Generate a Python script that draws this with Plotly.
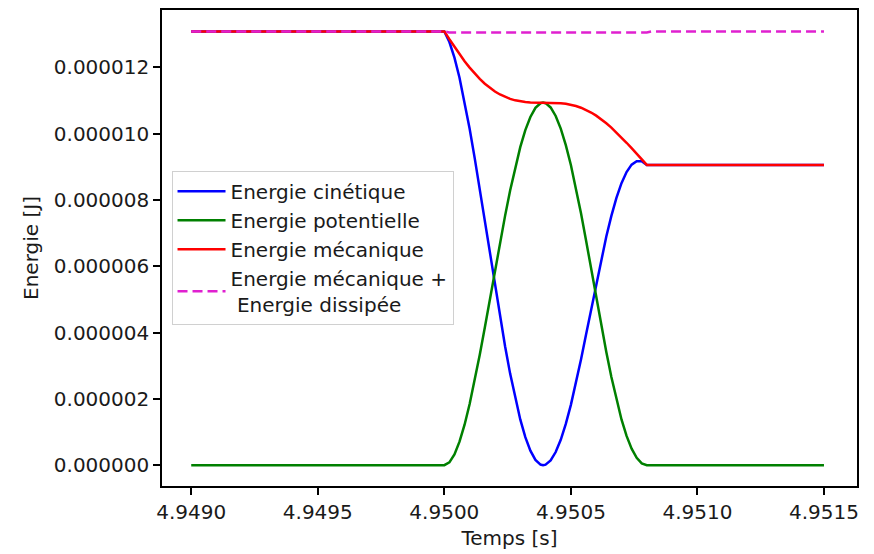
import numpy as np
import plotly.graph_objects as go

# Time samples [s]
temps = [4.94900,
         4.95000, 4.95002, 4.95004, 4.95006, 4.95008, 4.95010, 4.95012, 4.95014, 4.95016, 4.95018,
         4.95020, 4.95022, 4.95024, 4.95026, 4.95028, 4.95030, 4.95032, 4.95034, 4.95036, 4.95038,
         4.95039,
         4.95040, 4.95042, 4.95044, 4.95046, 4.95048, 4.95050, 4.95052, 4.95054, 4.95056, 4.95058,
         4.95060, 4.95062, 4.95064, 4.95066, 4.95068, 4.95070, 4.95072, 4.95074, 4.95076, 4.95078,
         4.95080,
         4.95150]

# Energies in micro-joules
e_cinetique = [13.08,
               13.08, 12.759, 12.287, 11.681, 10.961, 10.146, 9.259, 8.320, 7.353, 6.374,
               5.409, 4.471, 3.586, 2.761, 2.022, 1.379, 0.844, 0.438, 0.159, 0.018,
               0.000,
               0.016, 0.144, 0.396, 0.766, 1.245, 1.819, 2.472, 3.185, 3.937, 4.704,
               5.465, 6.209, 6.897, 7.518, 8.060, 8.504, 8.839, 9.062, 9.166, 9.166,
               9.053,
               9.053]

e_potentielle = [0.0,
                 0.0, 0.083, 0.324, 0.710, 1.221, 1.842, 2.550, 3.327, 4.150, 5.003,
                 5.860, 6.707, 7.518, 8.285, 8.979, 9.591, 10.105, 10.498, 10.774, 10.914,
                 10.932,
                 10.916, 10.787, 10.530, 10.149, 9.652, 9.050, 8.358, 7.593, 6.775, 5.929,
                 5.074, 4.223, 3.414, 2.660, 1.975, 1.378, 0.883, 0.496, 0.224, 0.054,
                 0.0,
                 0.0]

e_mecanique = [13.08,
               13.08, 12.842, 12.611, 12.391, 12.182, 11.988, 11.809, 11.647, 11.503, 11.377,
               11.269, 11.178, 11.104, 11.046, 11.001, 10.970, 10.949, 10.936, 10.933, 10.932,
               10.932,
               10.932, 10.931, 10.926, 10.915, 10.897, 10.869, 10.830, 10.778, 10.712, 10.633,
               10.539, 10.432, 10.311, 10.178, 10.035, 9.882, 9.722, 9.558, 9.390, 9.220,
               9.053,
               9.053]

temps_total = [4.94900, 4.95000, 4.95002, 4.95080, 4.95082, 4.95150]
e_total = [13.08, 13.08, 13.05, 13.05, 13.08, 13.08]

x_ticks = [4.9490, 4.9495, 4.9500, 4.9505, 4.9510, 4.9515]
y_ticks = [0.0, 2e-6, 4e-6, 6e-6, 8e-6, 10e-6, 12e-6]

uJ = 1e-6
LW = 2.5
FONT = "DejaVu Sans"
FS = 20

fig = go.Figure()
fig.add_trace(go.Scatter(x=temps, y=np.array(e_cinetique) * uJ, mode="lines",
                         name="Energie cinétique", line=dict(color="#0000ff", width=LW)))
fig.add_trace(go.Scatter(x=temps, y=np.array(e_potentielle) * uJ, mode="lines",
                         name="Energie potentielle", line=dict(color="#008000", width=LW)))
fig.add_trace(go.Scatter(x=temps, y=np.array(e_mecanique) * uJ, mode="lines",
                         name="Energie mécanique", line=dict(color="#ff0000", width=LW)))
fig.add_trace(go.Scatter(x=temps_total, y=np.array(e_total) * uJ, mode="lines",
                         name="Energie mécanique +<br> Energie dissipée",
                         line=dict(color="#e020d0", width=LW, dash="10px,5px")))

fig.update_layout(
    width=874, height=554,
    margin=dict(l=162, r=17, t=8, b=66),
    paper_bgcolor="white", plot_bgcolor="white",
    font=dict(family=FONT, size=FS, color="#1a1a1a"),
    showlegend=True,
    legend=dict(x=0.0137, y=0.6625, xanchor="left", yanchor="top",
                bgcolor="rgba(255,255,255,0.85)", bordercolor="#d0d0d0", borderwidth=1,
                font=dict(family=FONT, size=FS, color="#1a1a1a"),
                tracegroupgap=0, itemwidth=48),
)
fig.update_xaxes(
    range=[4.9488845, 4.9516305],
    tickvals=x_ticks, tickformat=".4f",
    showline=True, linecolor="black", linewidth=1.5, mirror=True,
    ticks="outside", ticklen=7, tickwidth=1.5, tickcolor="black",
    showgrid=False, zeroline=False,
    title=dict(text="Temps [s]", font=dict(family=FONT, size=FS), standoff=8),
)
fig.update_yaxes(
    range=[-6.28e-7, 1.3725e-5],
    tickvals=y_ticks, tickformat=".6f",
    showline=True, linecolor="black", linewidth=1.5, mirror=True,
    ticks="outside", ticklen=7, tickwidth=1.5, tickcolor="black",
    showgrid=False, zeroline=False,
    title=dict(text="Energie [J]", font=dict(family=FONT, size=FS), standoff=10),
)

fig.write_html("out.html")
